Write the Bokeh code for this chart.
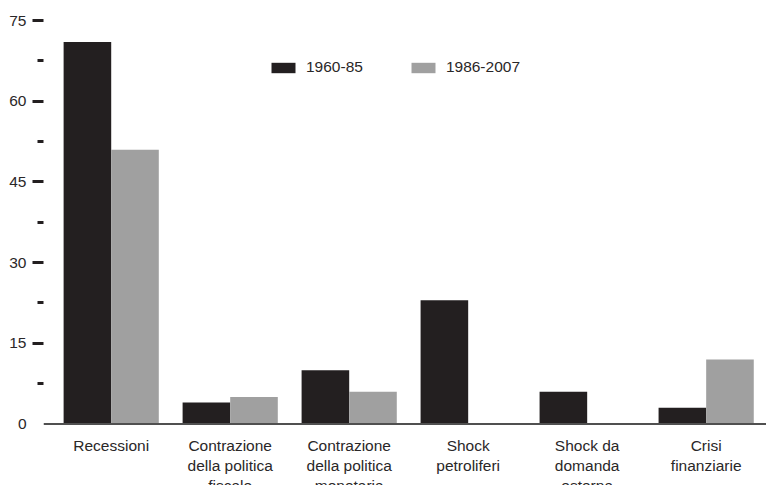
from bokeh.plotting import figure
from bokeh.models import (Range1d, FixedTicker, Legend, LegendItem,
                          ColumnDataSource, Span, LinearAxis)
from bokeh.core.properties import value
from bokeh.transform import dodge
from bokeh.embed import file_html
from bokeh.resources import INLINE

# ---- data ----
categories = ["Recessioni",
              "Contrazione\ndella politica\nfiscale",
              "Contrazione\ndella politica\nmonetaria",
              "Shock\npetroliferi",
              "Shock da\ndomanda\nesterna",
              "Crisi\nfinanziarie"]
series_names = ["1960-85", "1986-2007"]
values_1960_85 = [71, 4, 10, 23, 6, 3]
values_1986_2007 = [51, 5, 6, 0, 0, 12]
y_label_ticks = [0, 15, 30, 45, 60, 75]
y_major_marks = [15, 30, 45, 60, 75]
y_minor_marks = [7.5, 22.5, 37.5, 52.5, 67.5]

# ---- style ----
BLACK = "#231f20"
GREY = "#a0a0a0"
TEXT = "#2a2728"
FONT = "Liberation Sans"
FS = "15.5px"

idx = list(range(len(categories)))
src = ColumnDataSource(dict(idx=idx, a=values_1960_85, b=values_1986_2007,
                            label=categories))

x_start, x_end = -0.569, 5.507
y_start, y_end = -11.43, 75.56
p = figure(width=766, height=485, output_backend="svg", toolbar_location=None,
           x_range=Range1d(x_start, x_end), y_range=Range1d(y_start, y_end),
           x_axis_location=None,
           min_border_left=43, min_border_right=0, min_border_top=17,
           min_border_bottom=0)
p.outline_line_color = None
p.grid.visible = False
p.background_fill_color = "white"
p.border_fill_color = "white"

bw = 0.40
r1 = p.vbar(x=dodge("idx", -bw / 2, range=p.x_range), top="a", bottom=0,
            width=bw, source=src, fill_color=BLACK, line_color=None)
r2 = p.vbar(x=dodge("idx", bw / 2, range=p.x_range), top="b", bottom=0,
            width=bw, source=src, fill_color=GREY, line_color=None)

# baseline
p.add_layout(Span(location=0, dimension="width", line_color="#505050",
                  line_width=2))

# category labels
p.text(x="idx", y=0, text="label", source=src, y_offset=13,
       text_align="center", text_baseline="top", text_line_height=1.18,
       text_font=value(FONT), text_font_size=FS, text_color=TEXT)

# inner y axis: tick marks only (no mark at zero)
ya = p.yaxis[0]
ya.ticker = FixedTicker(ticks=y_major_marks, minor_ticks=y_minor_marks)
ya.axis_line_color = None
ya.major_tick_in = 0
ya.major_tick_out = 11
ya.minor_tick_in = 0
ya.minor_tick_out = 6
ya.major_tick_line_width = 3
ya.minor_tick_line_width = 3
ya.major_tick_line_color = BLACK
ya.minor_tick_line_color = BLACK
ya.major_label_overrides = {t: "" for t in y_major_marks}
ya.major_label_standoff = 0

# outer y axis: labels only
yl = LinearAxis(ticker=FixedTicker(ticks=y_label_ticks, minor_ticks=[]))
yl.axis_line_color = None
yl.major_tick_line_color = None
yl.minor_tick_line_color = None
yl.major_tick_in = 0
yl.major_tick_out = 0
yl.minor_tick_in = 0
yl.minor_tick_out = 0
yl.major_label_text_font = FONT
yl.major_label_text_font_size = FS
yl.major_label_text_color = TEXT
yl.major_label_standoff = 6
p.add_layout(yl, "left")

legend = Legend(items=[LegendItem(label=series_names[0], renderers=[r1]),
                       LegendItem(label=series_names[1], renderers=[r2])],
                orientation="horizontal", location=(225, 409),
                glyph_width=30, glyph_height=13, label_standoff=8,
                spacing=45, padding=0, margin=0,
                border_line_color=None, background_fill_alpha=0,
                label_text_font=FONT, label_text_font_size=FS,
                label_text_color=TEXT, label_height=13)
p.add_layout(legend)

open("out.html", "w").write(file_html(p, INLINE))
